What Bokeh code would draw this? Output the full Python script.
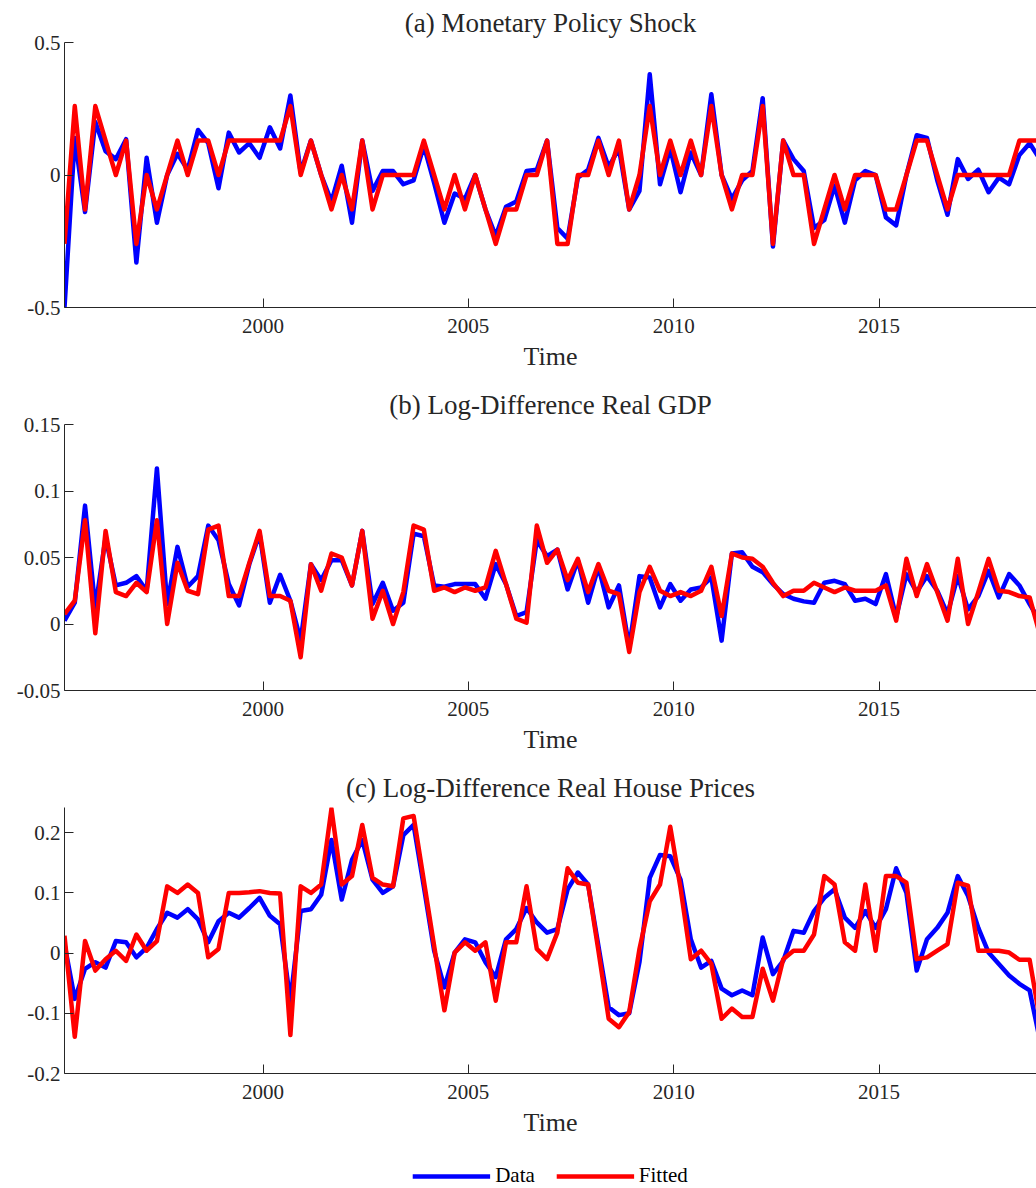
from bokeh.plotting import figure
from bokeh.layouts import column
from bokeh.models import Range1d, FixedTicker, Legend, LegendItem
from bokeh.embed import file_html
from bokeh.resources import INLINE

# ---------------- data (quarterly, 1995Q1 - 2018Q4, dated on the 1st of the quarter's last month) ----------------
start_year = 1995
n_quarters = 96
dates = [start_year + 2 / 12 + 0.25 * k for k in range(n_quarters)]

mps_data = [-0.50, 0.14, -0.14, 0.20, 0.09, 0.06, 0.135, -0.33, 0.065, -0.18,
            0.00, 0.08, 0.02, 0.17, 0.12, -0.05, 0.16, 0.085, 0.12, 0.065,
            0.18, 0.10, 0.30, 0.01, 0.13, 0.00, -0.10, 0.035, -0.18, 0.13,
            -0.06, 0.015, 0.015, -0.035, -0.02, 0.11, -0.03, -0.18, -0.07, -0.09,
            0.00, -0.13, -0.23, -0.12, -0.10, 0.015, 0.02, 0.13, -0.20, -0.24,
            -0.01, 0.02, 0.14, 0.03, 0.10, -0.13, -0.06, 0.38, -0.035, 0.10,
            -0.065, 0.085, 0.00, 0.305, 0.00, -0.09, -0.02, 0.015, 0.29, -0.27,
            0.13, 0.06, 0.015, -0.20, -0.17, -0.04, -0.18, -0.02, 0.015, 0.00,
            -0.16, -0.19, 0.00, 0.15, 0.14, -0.02, -0.15, 0.06, -0.015, 0.02,
            -0.065, -0.01, -0.035, 0.075, 0.12, 0.06]
mps_fit = [-0.26, 0.26, -0.13, 0.26, 0.13, 0.00, 0.13, -0.26, 0.00, -0.13,
           0.00, 0.13, 0.00, 0.13, 0.13, 0.00, 0.13, 0.13, 0.13, 0.13,
           0.13, 0.13, 0.26, 0.00, 0.13, 0.00, -0.13, 0.00, -0.13, 0.13,
           -0.13, 0.00, 0.00, 0.00, 0.00, 0.13, 0.00, -0.13, 0.00, -0.13,
           0.00, -0.13, -0.26, -0.13, -0.13, 0.00, 0.00, 0.13, -0.26, -0.26,
           0.00, 0.00, 0.13, 0.00, 0.13, -0.13, 0.00, 0.26, 0.00, 0.13,
           0.00, 0.13, 0.00, 0.26, 0.00, -0.13, 0.00, 0.00, 0.26, -0.26,
           0.13, 0.00, 0.00, -0.26, -0.13, 0.00, -0.13, 0.00, 0.00, 0.00,
           -0.13, -0.13, 0.00, 0.13, 0.13, 0.00, -0.13, 0.00, 0.00, 0.00,
           0.00, 0.00, 0.00, 0.13, 0.13, 0.13]

gdp_data = [0.0025, 0.016, 0.089, 0.012, 0.065, 0.029, 0.031, 0.036, 0.025, 0.117,
            0.015, 0.058, 0.028, 0.036, 0.074, 0.063, 0.030, 0.014, 0.045, 0.068,
            0.016, 0.037, 0.0175, -0.0125, 0.045, 0.033, 0.048, 0.048, 0.029, 0.070,
            0.015, 0.031, 0.010, 0.016, 0.068, 0.066, 0.029, 0.028, 0.030, 0.030,
            0.030, 0.019, 0.045, 0.030, 0.006, 0.009, 0.063, 0.051, 0.056, 0.026,
            0.048, 0.016, 0.043, 0.0125, 0.029, -0.0175, 0.036, 0.035, 0.0125, 0.030,
            0.0175, 0.026, 0.0275, 0.035, -0.0125, 0.053, 0.054, 0.043, 0.039, 0.030,
            0.0225, 0.019, 0.017, 0.016, 0.031, 0.0325, 0.030, 0.0175, 0.019, 0.015,
            0.0375, 0.005, 0.0375, 0.024, 0.036, 0.025, 0.0075, 0.036, 0.011, 0.021,
            0.040, 0.020, 0.0375, 0.029, 0.015, 0.002]
gdp_fit = [0.0075, 0.0175, 0.078, -0.007, 0.070, 0.024, 0.021, 0.031, 0.024, 0.078,
           0.000, 0.046, 0.025, 0.0225, 0.071, 0.074, 0.021, 0.021, 0.046, 0.070,
           0.021, 0.021, 0.0175, -0.025, 0.045, 0.025, 0.053, 0.050, 0.029, 0.070,
           0.004, 0.025, 0.000, 0.024, 0.074, 0.071, 0.025, 0.0275, 0.024, 0.0275,
           0.025, 0.0275, 0.055, 0.030, 0.004, 0.001, 0.074, 0.046, 0.056, 0.033,
           0.049, 0.024, 0.045, 0.025, 0.0225, -0.021, 0.024, 0.043, 0.025, 0.021,
           0.024, 0.021, 0.025, 0.043, 0.006, 0.053, 0.050, 0.049, 0.043, 0.031,
           0.021, 0.025, 0.025, 0.031, 0.0275, 0.024, 0.0275, 0.025, 0.025, 0.025,
           0.029, 0.0025, 0.049, 0.021, 0.045, 0.024, 0.0025, 0.049, 0.000, 0.024,
           0.049, 0.025, 0.024, 0.021, 0.020, -0.008]

hp_data = [0.015, -0.076, -0.026, -0.015, -0.024, 0.020, 0.018, -0.007, 0.009, 0.040,
           0.067, 0.059, 0.073, 0.056, 0.018, 0.053, 0.067, 0.059, 0.075, 0.092,
           0.062, 0.048, -0.080, 0.070, 0.073, 0.097, 0.188, 0.089, 0.155, 0.188,
           0.122, 0.100, 0.111, 0.196, 0.213, 0.110, 0.004, -0.057, 0.001, 0.023,
           0.018, -0.015, -0.040, 0.023, 0.040, 0.075, 0.051, 0.034, 0.040, 0.106,
           0.134, 0.114, 0.012, -0.090, -0.103, -0.100, -0.015, 0.125, 0.163, 0.161,
           0.122, 0.023, -0.024, -0.013, -0.059, -0.070, -0.062, -0.070, 0.026, -0.035,
           -0.013, 0.037, 0.034, 0.070, 0.092, 0.106, 0.059, 0.042, 0.070, 0.042,
           0.073, 0.141, 0.100, -0.029, 0.023, 0.042, 0.067, 0.128, 0.095, 0.042,
           0.001, -0.018, -0.037, -0.051, -0.062, -0.145]
hp_fit = [0.029, -0.139, 0.020, -0.029, -0.010, 0.004, -0.013, 0.031, 0.004, 0.020,
          0.111, 0.100, 0.114, 0.100, -0.007, 0.007, 0.100, 0.100, 0.101, 0.103,
          0.100, 0.099, -0.136, 0.111, 0.100, 0.114, 0.240, 0.114, 0.128, 0.213,
          0.125, 0.114, 0.111, 0.224, 0.228, 0.120, 0.012, -0.095, 0.001, 0.018,
          0.004, 0.018, -0.079, 0.018, 0.018, 0.111, 0.007, -0.010, 0.034, 0.141,
          0.117, 0.114, 0.004, -0.109, -0.123, -0.098, 0.007, 0.086, 0.114, 0.210,
          0.108, -0.010, 0.004, -0.018, -0.109, -0.092, -0.106, -0.106, -0.026, -0.079,
          -0.010, 0.004, 0.004, 0.031, 0.128, 0.114, 0.018, 0.004, 0.114, 0.004,
          0.128, 0.128, 0.117, -0.010, -0.007, 0.004, 0.015, 0.117, 0.112, 0.004,
          0.004, 0.004, 0.001, -0.011, -0.011, -0.110]

titles = ["(a) Monetary Policy Shock", "(b) Log-Difference Real GDP",
          "(c) Log-Difference Real House Prices"]
x_ticks = [2000, 2005, 2010, 2015]
y_ticks_a = [-0.5, 0, 0.5]
y_labels_a = ["-0.5", "0", "0.5"]
y_ticks_b = [-0.05, 0, 0.05, 0.1, 0.15]
y_labels_b = ["-0.05", "0", "0.05", "0.1", "0.15"]
y_ticks_c = [-0.2, -0.1, 0, 0.1, 0.2]
y_labels_c = ["-0.2", "-0.1", "0", "0.1", "0.2"]
series_names = ["Data", "Fitted"]

# ---------------- styling ----------------
FONT = "Liberation Serif"
AX = "#262626"
BLUE = "#0000ff"
RED = "#ff0000"
LW = 4.5
W = 1036
X0, X1 = 1995 + 2 / 12, 1995 + 2 / 12 + 972 / 41.07


def panel(title, yd, yf, yr, yticks, ylabels, top, frame_h):
    p = figure(width=W, height=top + frame_h + 73, output_backend="svg",
               toolbar_location=None, x_range=Range1d(X0, X1),
               y_range=Range1d(*yr), min_border_left=64, min_border_right=0,
               min_border_top=top, min_border_bottom=73)
    p.title.text = title
    p.title.align = "center"
    p.title.text_font = FONT
    p.title.text_font_size = "27px"
    p.title.text_font_style = "normal"
    p.title.text_color = AX
    p.title.standoff = 10
    p.outline_line_color = None
    p.grid.visible = False
    p.background_fill_color = "white"
    p.border_fill_color = "white"

    for ax in (p.xaxis[0], p.yaxis[0]):
        ax.axis_line_color = AX
        ax.axis_line_width = 1
        ax.major_tick_line_color = AX
        ax.major_tick_in = 9
        ax.major_tick_out = 0
        ax.minor_tick_line_color = None
        ax.major_label_text_font = FONT
        ax.major_label_text_font_size = "21px"
        ax.major_label_text_color = AX

    p.xaxis.ticker = FixedTicker(ticks=x_ticks)
    p.xaxis.major_label_overrides = {t: str(t) for t in x_ticks}
    p.xaxis.major_label_standoff = 11
    p.xaxis.axis_label = "Time"
    p.xaxis.axis_label_text_font = FONT
    p.xaxis.axis_label_text_font_size = "26px"
    p.xaxis.axis_label_text_font_style = "normal"
    p.xaxis.axis_label_text_color = AX
    p.xaxis.axis_label_standoff = 6

    p.yaxis.ticker = FixedTicker(ticks=yticks)
    p.yaxis.major_label_overrides = {t: l for t, l in zip(yticks, ylabels)}
    p.yaxis.major_label_standoff = 4

    p.line(dates, yd, line_color=BLUE, line_width=LW, line_join="round")
    p.line(dates, yf, line_color=RED, line_width=LW, line_join="round")
    return p


pa = panel(titles[0], mps_data, mps_fit, (-0.5, 0.5), y_ticks_a, y_labels_a, 42, 265)
pb = panel(titles[1], gdp_data, gdp_fit, (-0.05, 0.15), y_ticks_b, y_labels_b, 44, 266)
pc = panel(titles[2], hp_data, hp_fit, (-0.2, 0.242), y_ticks_c, y_labels_c, 44, 266)

# legend strip (its proxy lines lie outside the visible range)
pl = figure(width=W, height=42, output_backend="svg", toolbar_location=None,
            x_range=Range1d(0, 1), y_range=Range1d(0, 1),
            x_axis_location=None, y_axis_location=None,
            min_border_left=64, min_border_right=0, min_border_top=0, min_border_bottom=0)
pl.outline_line_color = None
pl.grid.visible = False
r1 = pl.line([-5, -4], [-5, -5], line_color=BLUE, line_width=LW)
r2 = pl.line([-5, -4], [-5, -5], line_color=RED, line_width=LW)
leg = Legend(items=[LegendItem(label=series_names[0], renderers=[r1]),
                    LegendItem(label=series_names[1], renderers=[r2])],
             orientation="horizontal", location="bottom_center",
             glyph_width=78, glyph_height=20, label_standoff=5, spacing=21,
             padding=0, margin=0, border_line_color=None, background_fill_alpha=0,
             label_text_font=FONT, label_text_font_size="21px", label_text_color="#000000")
pl.add_layout(leg)

layout = column(pa, pb, pc, pl, spacing=0)
open("out.html", "w").write(file_html(layout, INLINE))
